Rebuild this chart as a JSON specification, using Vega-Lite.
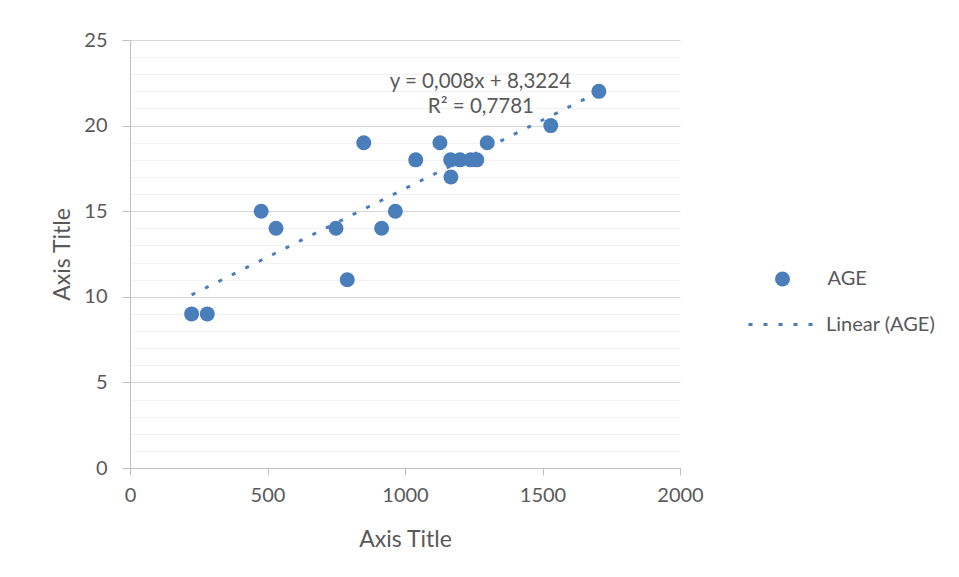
{
  "$schema": "https://vega.github.io/schema/vega-lite/v6.json",
  "width": 550,
  "height": 428,
  "autosize": {"type": "none"},
  "padding": {"left": 130, "top": 40, "right": 279, "bottom": 109},
  "background": "white",
  "config": {
    "view": {"stroke": null},
    "font": "Lato",
    "axis": {"labelFont": "Lato", "titleFont": "Lato", "labelColor": "#595959", "titleColor": "#595959", "labelFontSize": 20, "titleFontSize": 23, "titleFontWeight": "normal", "domainColor": "#bfbfbf", "tickColor": "#bfbfbf", "labelFlush": false},
    "legend": {"labelFont": "Lato", "labelFontSize": 20, "labelColor": "#595959", "padding": 0}
  },
  "encoding": {
    "x": {"field": "x", "type": "quantitative", "scale": {"domain": [0, 2000], "nice": false},
      "axis": {"values": [0, 500, 1000, 1500, 2000], "format": "d", "grid": false, "tickSize": 7, "labelPadding": 10, "labelFlush": false, "title": "Axis Title", "titlePadding": 23}},
    "y": {"field": "age", "type": "quantitative", "scale": {"domain": [0, 25], "nice": false},
      "axis": {"values": [0,1,2,3,4,5,6,7,8,9,10,11,12,13,14,15,16,17,18,19,20,21,22,23,24,25],
        "labelExpr": "datum.value % 5 === 0 ? datum.label : ''", "labelOverlap": false, "labelFlush": false,
        "grid": true,
        "gridColor": {"condition": {"test": "datum.value % 5 === 0", "value": "#d9d9d9"}, "value": "#f2f2f2"},
        "tickColor": {"condition": {"test": "datum.value % 5 === 0", "value": "#bfbfbf"}, "value": "rgba(0,0,0,0)"},
        "tickSize": 8, "labelPadding": 15, "title": "Axis Title", "titleX": -68, "titleBaseline": "middle"}}
  },
  "layer": [
    {
      "data": {"values": [
        {"x": 224, "age": 9, "series": "AGE"},
        {"x": 281, "age": 9, "series": "AGE"},
        {"x": 477, "age": 15, "series": "AGE"},
        {"x": 531, "age": 14, "series": "AGE"},
        {"x": 749, "age": 14, "series": "AGE"},
        {"x": 790, "age": 11, "series": "AGE"},
        {"x": 850, "age": 19, "series": "AGE"},
        {"x": 915, "age": 14, "series": "AGE"},
        {"x": 965, "age": 15, "series": "AGE"},
        {"x": 1039, "age": 18, "series": "AGE"},
        {"x": 1127, "age": 19, "series": "AGE"},
        {"x": 1166, "age": 18, "series": "AGE"},
        {"x": 1167, "age": 17, "series": "AGE"},
        {"x": 1200, "age": 18, "series": "AGE"},
        {"x": 1239, "age": 18, "series": "AGE"},
        {"x": 1261, "age": 18, "series": "AGE"},
        {"x": 1299, "age": 19, "series": "AGE"},
        {"x": 1530, "age": 20, "series": "AGE"},
        {"x": 1705, "age": 22, "series": "AGE"}
      ]},
      "mark": {"type": "circle", "size": 225, "opacity": 1},
      "encoding": {
        "color": {"field": "series", "type": "nominal", "scale": {"domain": ["AGE"], "range": ["#4a7ebb"]},
          "legend": {"title": null, "orient": "none", "legendX": 642.5, "legendY": 229, "symbolType": "circle", "symbolSize": 225, "labelOffset": 35}}
      }
    },
    {
      "data": {"values": [
        {"x": 224, "age": 10.11, "series": "Linear (AGE)"},
        {"x": 1705, "age": 21.96, "series": "Linear (AGE)"}
      ]},
      "mark": {"type": "line", "strokeWidth": 3, "strokeCap": "butt", "color": "#4a7ebb"},
      "encoding": {
        "strokeDash": {"field": "series", "type": "nominal", "scale": {"domain": ["Linear (AGE)"], "range": [[4, 11]]},
          "legend": {"title": null, "orient": "none", "legendX": 617, "legendY": 249, "symbolType": "stroke", "symbolSize": 4624, "symbolStrokeWidth": 3, "symbolStrokeColor": "#4a7ebb", "labelOffset": 8}}
      }
    },
    {
      "data": {"values": [
        {"x": 1274, "age": 22.55, "text": "y = 0,008x + 8,3224"},
        {"x": 1276, "age": 21.09, "text": "R² = 0,7781"}
      ]},
      "mark": {"type": "text", "font": "Lato", "fontSize": 20.5, "color": "#595959", "align": "center", "baseline": "middle"},
      "encoding": {
        "text": {"field": "text", "type": "nominal"}
      }
    }
  ]
}
